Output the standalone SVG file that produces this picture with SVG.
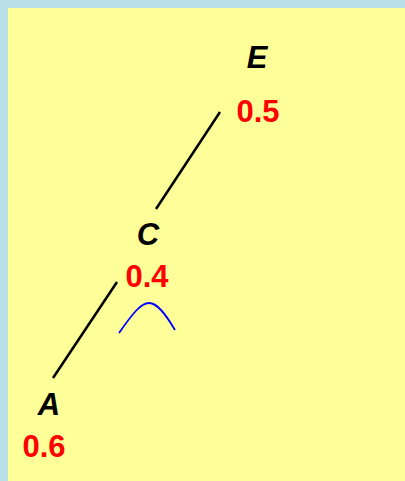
<svg xmlns="http://www.w3.org/2000/svg" width="405" height="481" viewBox="0 0 405 481">
<style>
.lbl{font-family:"Liberation Sans",Arial,sans-serif;font-size:31px;font-weight:bold;font-style:italic;fill:#000;text-anchor:middle}
.val{font-family:"Liberation Sans",Arial,sans-serif;font-size:31px;font-weight:bold;fill:#FF0000;text-anchor:middle}
.edge{stroke:#000;stroke-width:2.5;fill:none}
</style>
<rect x="0" y="0" width="405" height="481" fill="#B8E0E6"/>
<rect x="8" y="8" width="397" height="473" fill="#FFFF99"/>
<g id="connectors">
<line class="edge" x1="220" y1="112" x2="156" y2="209"/>
<line class="edge" x1="117" y1="282" x2="53" y2="378"/>
</g>
<g id="node-E">
<text class="lbl" x="257" y="68">E</text>
<text class="val" x="258" y="122">0.5</text>
</g>
<g id="node-C">
<text class="lbl" x="148" y="245">C</text>
<text class="val" x="147" y="287">0.4</text>
</g>
<g id="node-A">
<text class="lbl" x="49" y="415">A</text>
<text class="val" x="44" y="457">0.6</text>
</g>
<path d="M119,333 C133,313 141,303 149,303 C157,303 165,313 175,330" stroke="#0000FF" stroke-width="1.8" fill="none"/>
</svg>
